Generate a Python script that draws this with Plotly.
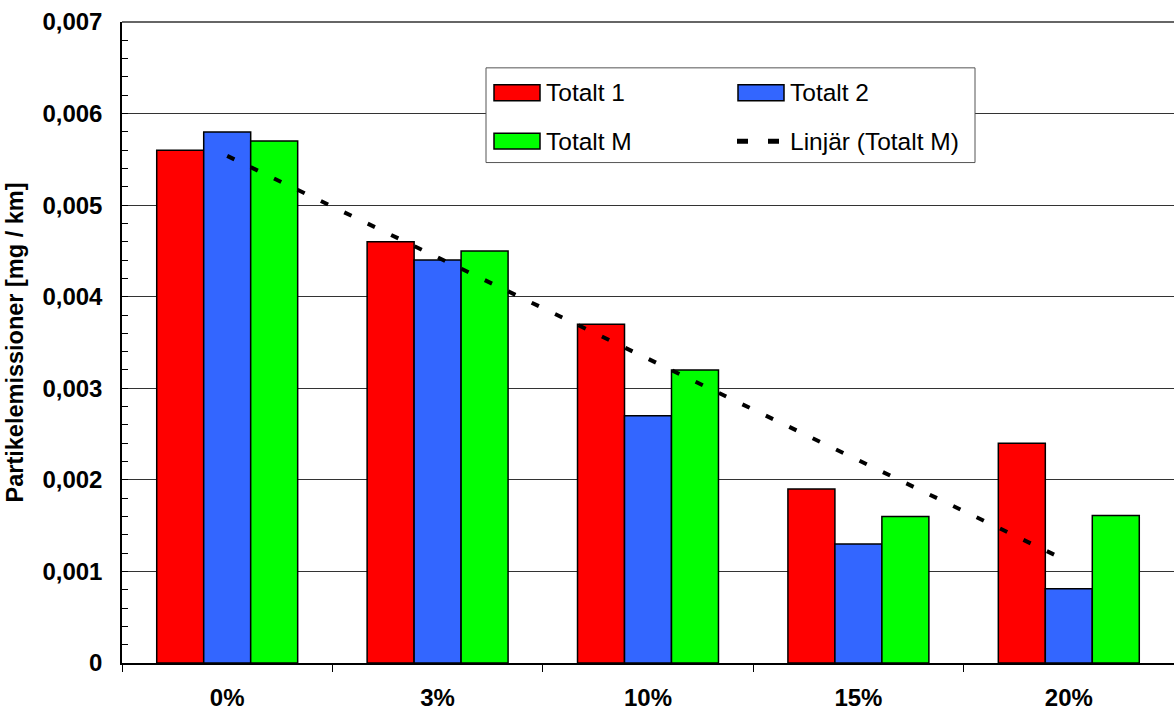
import numpy as np
import plotly.graph_objects as go

# Blend share of the fuel and measured particle emissions
categories = ["0%", "3%", "10%", "15%", "20%"]
totalt_1 = [0.0056, 0.0046, 0.0037, 0.0019, 0.0024]
totalt_2 = [0.0058, 0.0044, 0.0027, 0.0013, 0.00081]
totalt_m = [0.0057, 0.0045, 0.0032, 0.0016, 0.00161]

y_tickvals = [0, 0.001, 0.002, 0.003, 0.004, 0.005, 0.006, 0.007]
y_ticktext = ["0", "0,001", "0,002", "0,003", "0,004", "0,005", "0,006", "0,007"]

series_names = ["Totalt 1", "Totalt 2", "Totalt M"]
trend_name = "Linjär (Totalt M)"
y_title = "Partikelemissioner [mg / km]"

colors = ["#FF0000", "#3366FF", "#00FF00"]

# Linear trend of Totalt M over the category index
idx = np.arange(1, len(categories) + 1)
slope, intercept = np.polyfit(idx, totalt_m, 1)
trend = slope * idx + intercept

W, H = 1174, 711
ML, MR, MT, MB = 122, 0, 22, 46
FONT = "Liberation Sans, Arial, sans-serif"

fig = go.Figure()
for name, vals, col in zip(series_names, [totalt_1, totalt_2, totalt_m], colors):
    fig.add_trace(go.Bar(
        x=categories, y=vals, name=name,
        marker=dict(color=col, line=dict(color="#000000", width=1.5)),
        showlegend=False,
    ))

fig.add_trace(go.Scatter(
    x=categories, y=trend, mode="lines", name=trend_name,
    line=dict(color="#000000", width=4, dash="8px,18px"),
    showlegend=False,
))

# Legend box drawn in pixel space, converted to paper coordinates
pw, ph = W - ML - MR, H - MT - MB


def px(x):
    return (x - ML) / pw


def py(y):
    return (H - MB - y) / ph


shapes = [
    # top border of the plot area at the axis maximum
    dict(type="line", xref="paper", yref="paper", x0=0, x1=1, y0=1, y1=1,
         line=dict(color="#333333", width=1.5), layer="below"),
    dict(type="rect", xref="paper", yref="paper",
         x0=px(486), x1=px(975), y0=py(163), y1=py(68),
         fillcolor="#FFFFFF", line=dict(color="#555555", width=1), layer="above"),
]
annotations = []
entries = [
    (series_names[0], colors[0], 494, 93),
    (series_names[1], colors[1], 738, 93),
    (series_names[2], colors[2], 494, 141.5),
]
LEG_SIZE = 24.5
for label, col, x0, yc in entries:
    shapes.append(dict(type="rect", xref="paper", yref="paper",
                       x0=px(x0), x1=px(x0 + 46), y0=py(yc + 8), y1=py(yc - 8),
                       fillcolor=col, line=dict(color="#000000", width=1.5),
                       layer="above"))
    annotations.append(dict(xref="paper", yref="paper", x=px(x0 + 50), y=py(yc),
                            text=label, showarrow=False, xanchor="left",
                            yanchor="middle",
                            font=dict(family=FONT, size=LEG_SIZE, color="#000000")))
shapes.append(dict(type="line", xref="paper", yref="paper",
                   x0=px(737), x1=px(779), y0=py(141.5), y1=py(141.5),
                   line=dict(color="#000000", width=5, dash="11px,20px"),
                   layer="above"))
annotations.append(dict(xref="paper", yref="paper", x=px(788), y=py(141.5),
                        text=trend_name, showarrow=False, xanchor="left",
                        yanchor="middle",
                        font=dict(family=FONT, size=LEG_SIZE, color="#000000")))

fig.update_layout(
    width=W, height=H,
    margin=dict(l=ML, r=MR, t=MT, b=MB, pad=0),
    paper_bgcolor="#FFFFFF", plot_bgcolor="#FFFFFF",
    barmode="group", bargap=0.33, bargroupgap=0,
    font=dict(family=FONT, color="#000000"),
    shapes=shapes, annotations=annotations,
    showlegend=False,
)

fig.update_xaxes(
    type="category",
    showline=True, linecolor="#000000", linewidth=1.5,
    ticks="outside", tickson="boundaries", ticklen=7, tickcolor="#000000",
    tickwidth=1,
    tickfont=dict(family=FONT, size=24, color="#000000", weight="bold"),
    ticklabelstandoff=12,
    showgrid=False, zeroline=False,
)

fig.update_yaxes(
    range=[0, 0.007],
    tickvals=y_tickvals, ticktext=y_ticktext,
    showline=True, linecolor="#000000", linewidth=1.5,
    ticks="inside", ticklen=6, tickcolor="#000000", tickwidth=1,
    minor=dict(ticks="inside", ticklen=6, dtick=0.0002, tick0=0,
               tickcolor="#000000", tickwidth=1, showgrid=False),
    showgrid=True, gridcolor="#333333", gridwidth=1,
    zeroline=False,
    tickfont=dict(family=FONT, size=24, color="#000000", weight="bold"),
    ticklabelstandoff=13,
    title=dict(text=y_title, standoff=12,
               font=dict(family=FONT, size=23.5, color="#000000", weight="bold")),
)

fig.write_html("out.html")
